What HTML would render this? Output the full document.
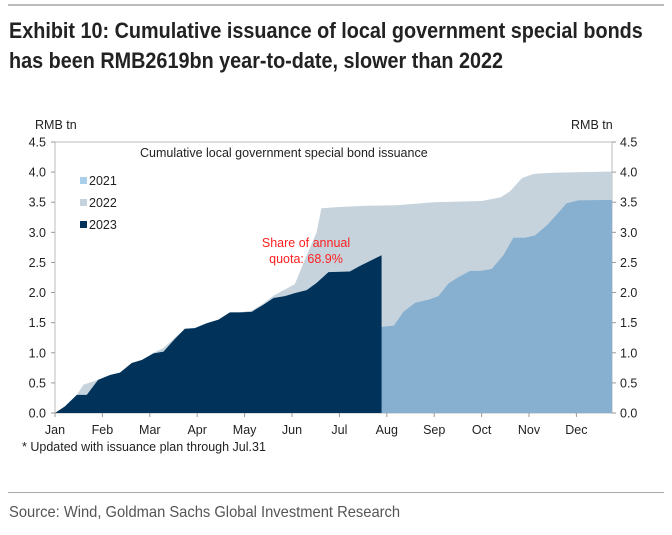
<!DOCTYPE html>
<html><head><meta charset="utf-8">
<style>
body{margin:0;background:#fff;width:672px;height:535px;overflow:hidden;font-family:"Liberation Sans",Arial,sans-serif;}
.t{position:absolute;left:9px;font-family:"Liberation Sans Narrow","Liberation Sans",sans-serif;font-weight:bold;font-size:22px;color:#222;white-space:nowrap;transform:scaleX(0.9);transform-origin:0 0;}
</style></head><body>
<div style="position:absolute;left:8px;top:4px;width:656px;height:2px;background:#bbb"></div>
<div class="t" style="top:18px">Exhibit 10: Cumulative issuance of local government special bonds</div>
<div class="t" style="top:48px">has been RMB2619bn year-to-date, slower than 2022</div>
<svg id="chart" width="672" height="470" style="position:absolute;left:0;top:0" font-family="Liberation Sans, Arial, sans-serif"></svg>
<div style="position:absolute;left:8px;top:492px;width:656px;height:1px;background:#aaa"></div>
<div style="position:absolute;left:9px;top:504px;font-family:'Liberation Sans Narrow','Liberation Sans',sans-serif;font-size:16px;color:#555;white-space:nowrap;transform:scaleX(0.92);transform-origin:0 0">Source: Wind, Goldman Sachs Global Investment Research</div>
<script>
const months=["Jan","Feb","Mar","Apr","May","Jun","Jul","Aug","Sep","Oct","Nov","Dec"];
const yTicks=[0,0.5,1,1.5,2,2.5,3,3.5,4,4.5];
const x2022=[0,0.21,0.46,0.6,0.9,1.16,1.37,1.62,1.83,2.08,2.29,2.53,2.74,2.95,3.2,3.45,3.69,3.9,4.15,4.4,4.61,4.85,5.06,5.3,5.52,5.62,6.0,6.5,7.2,8.0,9.0,9.4,9.6,9.85,10.1,10.5,11.75];
const v2022=[0,0.11,0.30,0.47,0.55,0.63,0.67,0.83,0.88,1.0,1.08,1.25,1.40,1.41,1.49,1.55,1.67,1.67,1.70,1.82,1.95,2.05,2.14,2.6,3.0,3.4,3.42,3.44,3.45,3.50,3.52,3.58,3.68,3.9,3.97,3.99,4.01];
const x2021=[0,1,2,3,4,5,6,6.65,6.9,7.15,7.35,7.6,7.88,8.09,8.3,8.52,8.76,8.97,9.21,9.46,9.67,9.92,10.13,10.38,10.58,10.79,11.04,11.75];
const v2021=[0,0.05,0.3,0.7,1.0,1.15,1.3,1.40,1.43,1.45,1.68,1.83,1.88,1.94,2.15,2.26,2.36,2.36,2.39,2.62,2.91,2.91,2.95,3.12,3.29,3.48,3.53,3.54];
const x2023=[0,0.21,0.46,0.67,0.91,1.16,1.37,1.62,1.83,2.08,2.29,2.53,2.74,2.95,3.2,3.45,3.69,3.9,4.15,4.4,4.61,4.85,5.06,5.31,5.52,5.77,6.22,6.43,6.89];
const v2023=[0,0.11,0.30,0.30,0.55,0.63,0.67,0.83,0.88,0.99,1.02,1.23,1.40,1.41,1.49,1.55,1.67,1.67,1.68,1.80,1.91,1.94,1.99,2.04,2.16,2.34,2.35,2.44,2.62];
const L=55,R=612,T=142,B=413,XMAX=11.75,YMAX=4.5,MW=47.4;
const X=m=>L+m*MW, Y=v=>B-(v/YMAX)*(B-T);
const svg=document.getElementById('chart');const NS='http://www.w3.org/2000/svg';
function mk(tag,at,txt){const e=document.createElementNS(NS,tag);for(const k in at)e.setAttribute(k,at[k]);if(txt!==undefined)e.textContent=txt;svg.appendChild(e);return e;}
function area(xs,vs,fill,name){let d='M'+X(xs[0])+','+Y(0);xs.forEach((x,i)=>d+=' L'+X(x)+','+Y(vs[i]));d+=' L'+X(xs[xs.length-1])+','+Y(0)+' Z';const p=mk('path',{d:d,fill:fill});

}
const f=mk('rect',{x:L,y:T,width:R-L,height:B-T,fill:'#fff',stroke:'#bbb','stroke-width':1});


area(x2022,v2022,'#c6d3dc','area-2022');
area(x2021,v2021,'#86afd0','area-2021');
area(x2023,v2023,'#00325a','area-2023');
yTicks.forEach(v=>{const a=mk('text',{x:L-9,y:Y(v)+4.5,'text-anchor':'end','font-size':12.5,fill:'#222'},v.toFixed(1));


const b=mk('text',{x:R+8,y:Y(v)+4.5,'font-size':12.5,fill:'#222'},v.toFixed(1));


mk('line',{x1:L-4,x2:L,y1:Y(v),y2:Y(v),stroke:'#999'});mk('line',{x1:R,x2:R+4,y1:Y(v),y2:Y(v),stroke:'#999'});});
months.forEach((m,i)=>{mk('line',{x1:X(i),x2:X(i),y1:B,y2:B+4,stroke:'#999'});const t=mk('text',{x:X(i),y:B+21,'text-anchor':'middle','font-size':12.5,fill:'#222'},m);

});
const u1=mk('text',{x:35,y:129,'font-size':12.5,fill:'#222'},'RMB tn');
const u2=mk('text',{x:571,y:129,'font-size':12.5,fill:'#222'},'RMB tn');
const ct=mk('text',{x:140,y:157,'font-size':12.5,fill:'#222'},'Cumulative local government special bond issuance');
[['2021','#a9cfea',183],['2022','#c6d3dc',205],['2023','#00325a',227]].forEach(l=>{mk('rect',{x:80,y:l[2]-6,width:7,height:7,fill:l[1]});const t=mk('text',{x:89,y:l[2]+2,'font-size':12.5,fill:'#222'},l[0]);

});
const a1=mk('text',{x:306,y:247,'text-anchor':'middle','font-size':12.5,fill:'#ff2020'},'Share of annual');
const a2=mk('text',{x:306,y:263,'text-anchor':'middle','font-size':12.5,fill:'#ff2020'},'quota: 68.9%');
const fn=mk('text',{x:22,y:451,'font-size':12.5,fill:'#222'},'* Updated with issuance plan through Jul.31');
</script>
</body></html>
